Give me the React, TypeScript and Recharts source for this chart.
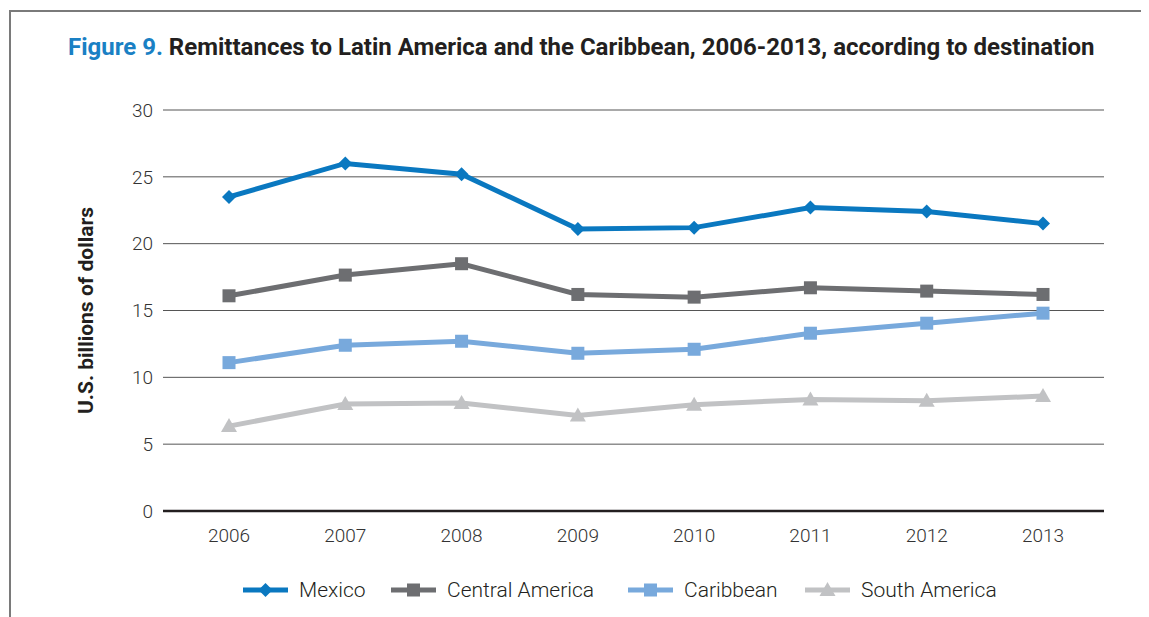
import React from "react";
import {
  LineChart,
  Line,
  XAxis,
  YAxis,
  CartesianGrid,
  Legend,
} from "recharts";

const years = ["2006", "2007", "2008", "2009", "2010", "2011", "2012", "2013"];
const mexico = [23.5, 26.0, 25.2, 21.1, 21.2, 22.7, 22.4, 21.5];
const centralAmerica = [16.1, 17.65, 18.5, 16.2, 16.0, 16.7, 16.45, 16.2];
const caribbean = [11.1, 12.4, 12.7, 11.8, 12.1, 13.3, 14.05, 14.8];
const southAmerica = [6.35, 8.0, 8.08, 7.15, 7.95, 8.35, 8.25, 8.6];
const yTicks = [0, 5, 10, 15, 20, 25, 30];

const data = years.map((year, i) => ({
  year,
  mexico: mexico[i],
  central: centralAmerica[i],
  caribbean: caribbean[i],
  south: southAmerica[i],
}));

type Marker = "diamond" | "square" | "triangle";

const series: { key: string; name: string; color: string; marker: Marker; itemWidth: number }[] = [
  { key: "mexico", name: "Mexico", color: "#0a78c0", marker: "diamond", itemWidth: 148 },
  { key: "central", name: "Central America", color: "#6d6e71", marker: "square", itemWidth: 237 },
  { key: "caribbean", name: "Caribbean", color: "#78a9dc", marker: "square", itemWidth: 177 },
  { key: "south", name: "South America", color: "#c1c2c4", marker: "triangle", itemWidth: 200 },
];

const MarkerShape = ({ cx, cy, color, marker }: { cx: number; cy: number; color: string; marker: Marker }) => {
  if (marker === "diamond") {
    const r = 7;
    return <path d={`M${cx},${cy - r}L${cx + r},${cy}L${cx},${cy + r}L${cx - r},${cy}Z`} fill={color} />;
  }
  if (marker === "square") {
    return <rect x={cx - 6.5} y={cy - 6.5} width={13} height={13} fill={color} />;
  }
  return <path d={`M${cx},${cy - 8}L${cx + 8},${cy + 6}L${cx - 8},${cy + 6}Z`} fill={color} />;
};

const makeDot = (color: string, marker: Marker) => (props: any) => (
  <MarkerShape key={props.key ?? `${props.cx}-${props.cy}`} cx={props.cx} cy={props.cy} color={color} marker={marker} />
);

const LegendContent = () => (
  <div style={{ display: "flex", alignItems: "center", height: 40, paddingLeft: 235 }}>
    {series.map((s) => (
      <div key={s.key} style={{ display: "flex", alignItems: "center", width: s.itemWidth, flex: "none" }}>
        <svg width={45} height={16} style={{ marginRight: 11 }}>
          <line x1={0} y1={8} x2={45} y2={8} stroke={s.color} strokeWidth={5} />
          <MarkerShape cx={22.5} cy={8} color={s.color} marker={s.marker} />
        </svg>
        <span style={{ fontFamily: "Roboto", fontWeight: 300, fontSize: 21, color: "#231f20", whiteSpace: "nowrap" }}>
          {s.name}
        </span>
      </div>
    ))}
  </div>
);

export default function App() {
  return (
    <div style={{ position: "relative", width: 1141, height: 609 }}>
      <style>{"html, body { overflow: hidden; }"}</style>
      {/* page frame: top and left rules only */}
      <div style={{ position: "absolute", left: 1, top: 2, width: 1140, height: 2, background: "#7a7a7a" }} />
      <div style={{ position: "absolute", left: 1, top: 2, width: 2, height: 607, background: "#7a7a7a" }} />
      <div
        style={{
          position: "absolute",
          left: 60,
          top: 25,
          fontFamily: "Roboto",
          fontWeight: 700,
          fontSize: 24,
          lineHeight: "28px",
          color: "#231f20",
          whiteSpace: "nowrap",
        }}
      >
        <span style={{ color: "#1a80c4" }}>Figure 9.</span> Remittances to Latin America and the Caribbean,
        2006-2013, according to destination
      </div>
      <LineChart
        width={1141}
        height={609}
        data={data}
        margin={{ top: 102, right: 45, bottom: 26, left: 0 }}
        style={{ position: "absolute", left: 0, top: 0 }}
      >
        <CartesianGrid vertical={false} stroke="#555555" strokeWidth={1} />
        <XAxis
          dataKey="year"
          height={40}
          padding={{ left: 66, right: 61 }}
          tickLine={false}
          tickSize={6}
          tickMargin={12}
          axisLine={{ stroke: "#231f20", strokeWidth: 2.5 }}
          tick={{ fontFamily: "Roboto", fontWeight: 300, fontSize: 19, fill: "#333333" }}
        />
        <YAxis
          width={155}
          domain={[0, 30]}
          ticks={yTicks}
          axisLine={false}
          tickLine={false}
          tickSize={6}
          tickMargin={4}
          tick={{ fontFamily: "Roboto", fontWeight: 300, fontSize: 19, fill: "#333333" }}
          label={{
            value: "U.S. billions of dollars",
            angle: -90,
            position: "center",
            style: { fontFamily: "Roboto", fontWeight: 700, fontSize: 21, fill: "#231f20" },
          }}
        />
        {series.map((s) => (
          <Line
            key={s.key}
            dataKey={s.key}
            name={s.name}
            stroke={s.color}
            strokeWidth={5}
            dot={makeDot(s.color, s.marker)}
            activeDot={false}
            isAnimationActive={false}
          />
        ))}
        <Legend verticalAlign="bottom" content={LegendContent} wrapperStyle={{ left: 0, width: 1141, bottom: 7 }} />
      </LineChart>
    </div>
  );
}
